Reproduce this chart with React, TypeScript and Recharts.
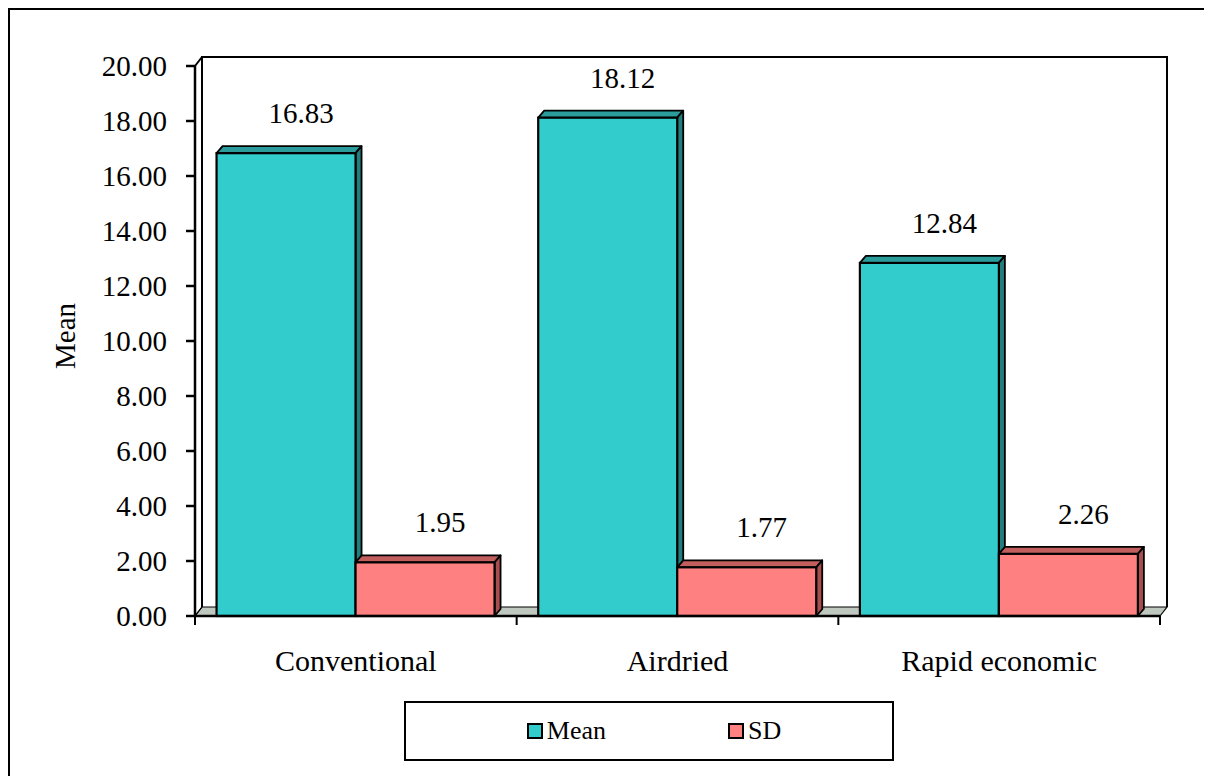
import React from 'react';
import {
  BarChart,
  Bar,
  XAxis,
  YAxis,
  Legend,
  LabelList,
  ReferenceArea,
} from 'recharts';

// Drying methods and their summary statistics
const categories = ['Conventional', 'Airdried', 'Rapid economic'];
const meanValues = [16.83, 18.12, 12.84];
const sdValues = [1.95, 1.77, 2.26];
const yTicks = [0, 2, 4, 6, 8, 10, 12, 14, 16, 18, 20];

const data = categories.map((name, i) => ({
  name,
  Mean: meanValues[i],
  SD: sdValues[i],
}));

const FONT = "'Liberation Serif', 'Times New Roman', serif";

const MEAN_FRONT = '#33CCCC';
const MEAN_TOP = '#2A9C9C';
const MEAN_SIDE = '#217E7E';
const SD_FRONT = '#FF8080';
const SD_TOP = '#C25E5E';
const SD_SIDE = '#A94E4E';

// depth of the pseudo-3D extrusion for bars and walls
const BAR_DX = 6;
const BAR_DY = 7;
const WALL_DX = 7;
const WALL_DY = 9;

const makeBox = (front: string, top: string, side: string) => (props: any) => {
  const { x, y, width, height } = props;
  if (width == null || height == null) return null;
  const w = width;
  const h = height;
  return (
    <g>
      <polygon
        points={`${x},${y} ${x + BAR_DX},${y - BAR_DY} ${x + w + BAR_DX},${y - BAR_DY} ${x + w},${y}`}
        fill={top}
        stroke="#000"
        strokeWidth={1.8}
        strokeLinejoin="round"
      />
      <polygon
        points={`${x + w},${y} ${x + w + BAR_DX},${y - BAR_DY} ${x + w + BAR_DX},${y + h - BAR_DY} ${x + w},${y + h}`}
        fill={side}
        stroke="#000"
        strokeWidth={1.8}
        strokeLinejoin="round"
      />
      <rect x={x} y={y} width={w} height={h} fill={front} stroke="#000" strokeWidth={2.2} />
    </g>
  );
};

const MeanBox = makeBox(MEAN_FRONT, MEAN_TOP, MEAN_SIDE);
const SdBox = makeBox(SD_FRONT, SD_TOP, SD_SIDE);

// Back wall, floor and category boundary ticks, sized from the plot rectangle
const Walls = (props: any) => {
  const { x, y, width, height } = props;
  if (x == null) return null;
  const bottom = y + height;
  const right = x + width;
  const n = categories.length;
  const ticks = Array.from({ length: n + 1 }, (_, i) => x + (i * width) / n);
  return (
    <g>
      <polygon
        points={`${x},${bottom} ${right},${bottom} ${right + WALL_DX},${bottom - WALL_DY} ${x + WALL_DX},${bottom - WALL_DY}`}
        fill="#BFC8BF"
        stroke="#000"
        strokeWidth={1.2}
      />
      <polyline
        points={`${x + WALL_DX},${bottom - WALL_DY} ${x + WALL_DX},${y - WALL_DY} ${right + WALL_DX},${y - WALL_DY} ${right + WALL_DX},${bottom - WALL_DY}`}
        fill="none"
        stroke="#000"
        strokeWidth={2}
      />
      <line x1={x} y1={y} x2={x + WALL_DX} y2={y - WALL_DY} stroke="#000" strokeWidth={2} />
      <line x1={x} y1={bottom} x2={x + WALL_DX} y2={bottom - WALL_DY} stroke="#000" strokeWidth={1.2} />
      {ticks.map((tx, i) => (
        <line key={i} x1={tx} y1={bottom} x2={tx} y2={bottom + 9} stroke="#000" strokeWidth={2} />
      ))}
    </g>
  );
};

const ValueLabel = (props: any) => {
  const { x, y, width, value } = props;
  return (
    <text
      x={x + width / 2 + 15}
      y={y - 30}
      textAnchor="middle"
      fontFamily={FONT}
      fontSize={29}
      fill="#000"
    >
      {Number(value).toFixed(2)}
    </text>
  );
};

const YTitle = (props: any) => {
  const { viewBox } = props;
  if (!viewBox) return null;
  const cx = viewBox.x + 55;
  const cy = viewBox.y + viewBox.height / 2 - 5;
  return (
    <text
      x={cx}
      y={cy}
      transform={`rotate(-90 ${cx} ${cy})`}
      textAnchor="middle"
      dominantBaseline="central"
      fontFamily={FONT}
      fontSize={29}
      fill="#000"
    >
      Mean
    </text>
  );
};

const LegendBox = (props: any) => {
  const { payload } = props;
  return (
    <div
      style={{
        boxSizing: 'border-box',
        width: 490,
        height: 60,
        border: '2px solid #000',
        display: 'flex',
        alignItems: 'center',
        justifyContent: 'center',
        gap: 122,
        paddingLeft: 10,
        fontFamily: FONT,
        fontSize: 26,
        color: '#000',
        background: '#fff',
      }}
    >
      {(payload || []).map((p: any) => (
        <div key={p.value} style={{ display: 'flex', alignItems: 'center' }}>
          <span
            style={{
              display: 'inline-block',
              boxSizing: 'border-box',
              width: 16,
              height: 16,
              border: '2.5px solid #000',
              background: p.color,
              marginRight: 4,
            }}
          />
          <span>{p.value}</span>
        </div>
      ))}
    </div>
  );
};

export default function App() {
  return (
    <div
      style={{
        width: 1199,
        height: 768,
        border: '2px solid #000',
        background: '#fff',
        position: 'relative',
      }}
    >
      <BarChart
        width={1199}
        height={768}
        data={data}
        margin={{ top: 56, right: 49, left: 0, bottom: 0 }}
        barCategoryGap="6.7%"
        barGap={0}
      >
        <ReferenceArea y1={0} y2={20} shape={<Walls />} ifOverflow="visible" fill="none" />
        <XAxis
          dataKey="name"
          height={162}
          tickLine={false}
          tickSize={0}
          tickMargin={34}
          axisLine={{ stroke: '#000', strokeWidth: 2.5 }}
          tick={{ fontFamily: FONT, fontSize: 30, fill: '#000' }}
          interval={0}
        />
        <YAxis
          width={185}
          domain={[0, 20]}
          ticks={yTicks}
          interval={0}
          tickFormatter={(v: number) => v.toFixed(2)}
          tickSize={9}
          tickMargin={19}
          axisLine={{ stroke: '#000', strokeWidth: 2.5 }}
          tickLine={{ stroke: '#000', strokeWidth: 2.5 }}
          tick={{ fontFamily: FONT, fontSize: 29, fill: '#000' }}
          label={<YTitle />}
        />
        <Legend
          layout="horizontal"
          verticalAlign="middle"
          align="center"
          wrapperStyle={{ left: 394, top: 691, width: 490, height: 60 }}
          content={<LegendBox />}
        />
        <Bar dataKey="Mean" fill={MEAN_FRONT} shape={<MeanBox />} isAnimationActive={false}>
          <LabelList dataKey="Mean" content={<ValueLabel />} />
        </Bar>
        <Bar dataKey="SD" fill={SD_FRONT} shape={<SdBox />} isAnimationActive={false}>
          <LabelList dataKey="SD" content={<ValueLabel />} />
        </Bar>
      </BarChart>
    </div>
  );
}
